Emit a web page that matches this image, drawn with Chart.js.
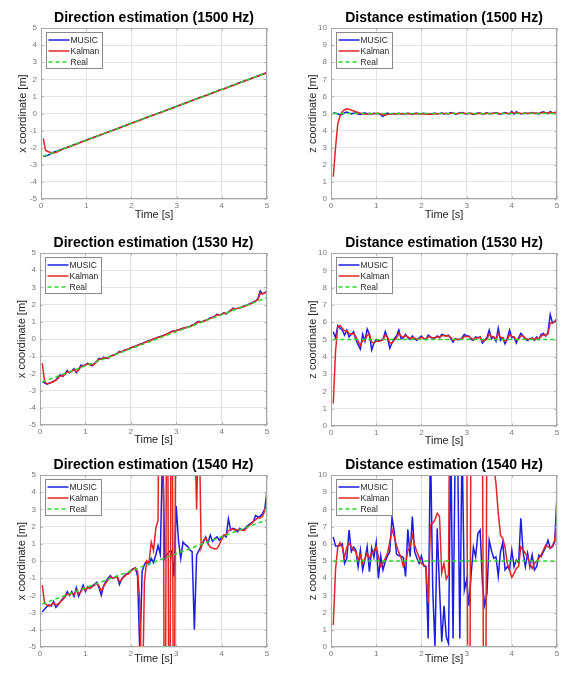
<!DOCTYPE html>
<html>
<head>
<meta charset="utf-8">
<script src="https://cdn.jsdelivr.net/npm/chart.js@4.4.1/dist/chart.umd.min.js"></script>
<style>
html,body{margin:0;padding:0;background:#fff;width:562px;height:673px;overflow:hidden;position:relative}
canvas{position:absolute}
</style>
</head>
<body>
<script>
// ---------- DATA ----------
const time = [
0.05,0.10,0.15,0.20,0.25,0.30,0.35,0.40,0.45,0.50,
0.55,0.60,0.65,0.70,0.75,0.80,0.85,0.90,0.95,1.00,
1.05,1.10,1.15,1.20,1.25,1.30,1.35,1.40,1.45,1.50,
1.55,1.60,1.65,1.70,1.75,1.80,1.85,1.90,1.95,2.00,
2.05,2.10,2.15,2.20,2.25,2.30,2.35,2.40,2.45,2.50,
2.55,2.60,2.65,2.70,2.75,2.80,2.85,2.90,2.95,3.00,
3.05,3.10,3.15,3.20,3.25,3.30,3.35,3.40,3.45,3.50,
3.55,3.60,3.65,3.70,3.75,3.80,3.85,3.90,3.95,4.00,
4.05,4.10,4.15,4.20,4.25,4.30,4.35,4.40,4.45,4.50,
4.55,4.60,4.65,4.70,4.75,4.80,4.85,4.90,4.95,5.00];

const realTime = [0.05, 5.00];
const dirReal  = [-2.50, 2.40];
const distReal = [5.00, 5.00];

const seriesNames = ['MUSIC', 'Kalman', 'Real'];
const xTicks = [0, 1, 2, 3, 4, 5];
const dirTicks = [-5, -4, -3, -2, -1, 0, 1, 2, 3, 4, 5];
const distTicks = [0, 1, 2, 3, 4, 5, 6, 7, 8, 9, 10];

// Direction 1500 Hz
const dirMusic1500 = [
-2.50,-2.49,-2.45,-2.38,-2.31,-2.24,-2.20,-2.15,-2.11,-2.05,
-2.01,-1.96,-1.92,-1.86,-1.81,-1.77,-1.71,-1.66,-1.61,-1.56,
-1.51,-1.46,-1.42,-1.36,-1.31,-1.27,-1.21,-1.16,-1.12,-1.07,
-1.02,-0.97,-0.92,-0.88,-0.82,-0.77,-0.72,-0.67,-0.62,-0.57,
-0.52,-0.47,-0.43,-0.37,-0.32,-0.27,-0.22,-0.17,-0.12,-0.08,
-0.03,0.02,0.07,0.12,0.17,0.22,0.27,0.32,0.37,0.42,
0.47,0.52,0.57,0.62,0.66,0.72,0.77,0.82,0.87,0.92,
0.96,1.01,1.06,1.11,1.16,1.21,1.26,1.31,1.37,1.41,
1.45,1.50,1.56,1.61,1.66,1.70,1.76,1.81,1.86,1.91,
1.95,2.00,2.05,2.10,2.15,2.19,2.25,2.30,2.34,2.40];
const dirKalman1500 = [
-1.45,-2.15,-2.22,-2.27,-2.30,-2.30,-2.26,-2.19,-2.13,-2.07,
-2.02,-1.97,-1.92,-1.87,-1.82,-1.77,-1.72,-1.67,-1.62,-1.57,
-1.52,-1.47,-1.42,-1.37,-1.32,-1.27,-1.22,-1.17,-1.12,-1.07,
-1.02,-0.98,-0.93,-0.88,-0.83,-0.78,-0.73,-0.68,-0.63,-0.58,
-0.53,-0.48,-0.43,-0.38,-0.33,-0.28,-0.23,-0.18,-0.13,-0.08,
-0.04,0.01,0.06,0.11,0.16,0.21,0.26,0.31,0.36,0.41,
0.46,0.51,0.56,0.61,0.66,0.71,0.76,0.81,0.86,0.91,
0.95,1.00,1.05,1.10,1.15,1.20,1.25,1.30,1.35,1.40,
1.45,1.49,1.54,1.59,1.64,1.69,1.74,1.79,1.84,1.89,
1.94,1.99,2.04,2.09,2.14,2.19,2.24,2.29,2.34,2.39];

// Distance 1500 Hz
const distMusic1500 = [
5.05,5.02,4.98,4.92,4.95,5.05,5.08,5.02,4.98,5.02,
5.03,4.97,4.95,5.00,5.04,4.98,5.00,4.97,5.02,4.99,
5.01,4.93,4.82,4.97,5.02,4.96,4.99,5.00,4.97,5.01,
4.98,5.00,4.97,5.02,4.99,4.96,5.00,5.02,4.98,4.99,
5.01,4.97,4.95,4.99,5.00,5.02,4.98,5.00,5.03,4.99,
5.00,4.98,5.06,5.02,4.96,5.00,5.03,5.05,5.00,4.97,
5.02,5.00,4.96,4.99,5.03,5.01,4.97,5.00,5.04,4.98,
5.00,5.02,5.05,4.99,4.97,5.01,5.06,5.00,4.98,5.12,
4.96,5.10,5.02,4.98,5.00,5.03,4.99,5.01,5.05,5.00,
5.02,4.98,5.06,5.10,5.04,4.99,5.12,5.03,5.06,5.08];
const distKalman1500 = [
1.30,3.00,4.40,4.85,5.10,5.22,5.27,5.25,5.20,5.15,
5.10,5.06,5.02,4.98,4.96,4.97,5.00,4.98,4.99,5.00,
5.00,4.97,4.92,4.90,4.95,4.97,4.98,4.99,4.98,4.99,
4.98,4.99,4.98,5.00,4.99,4.98,4.99,5.00,4.99,4.98,
4.98,4.96,4.95,4.95,4.96,4.98,4.98,4.99,5.00,5.00,
5.00,4.99,5.02,5.02,5.00,4.99,5.01,5.03,5.02,4.99,
5.00,5.00,4.98,4.98,5.00,5.01,4.99,4.99,5.01,5.00,
5.00,5.01,5.02,5.01,4.99,5.00,5.02,5.01,5.00,5.05,
5.02,5.05,5.03,5.00,5.00,5.02,5.01,5.01,5.03,5.02,
5.02,5.00,5.03,5.06,5.05,5.02,5.06,5.05,5.05,5.06];

// Direction 1530 Hz
const dirMusic1530 = [
-2.46,-2.55,-2.62,-2.57,-2.52,-2.45,-2.38,-2.22,-2.08,-2.18,
-2.02,-1.83,-1.96,-1.86,-1.73,-1.96,-1.80,-1.52,-1.56,-1.50,
-1.42,-1.50,-1.56,-1.42,-1.30,-1.12,-1.16,-1.07,-1.10,-1.13,
-1.00,-0.94,-0.90,-0.84,-0.72,-0.75,-0.66,-0.62,-0.58,-0.50,
-0.46,-0.42,-0.36,-0.30,-0.26,-0.20,-0.15,-0.10,-0.06,0.00,
0.05,0.10,0.14,0.19,0.24,0.30,0.36,0.44,0.48,0.50,
0.53,0.58,0.62,0.66,0.70,0.73,0.80,0.86,0.96,1.03,
0.98,1.04,1.10,1.14,1.22,1.26,1.32,1.45,1.38,1.45,
1.52,1.46,1.58,1.66,1.80,1.76,1.78,1.82,1.86,1.92,
1.97,2.03,2.08,2.15,2.22,2.34,2.80,2.62,2.68,2.80];
const dirKalman1530 = [
-1.40,-2.45,-2.60,-2.58,-2.53,-2.47,-2.40,-2.28,-2.14,-2.15,
-2.06,-1.90,-1.93,-1.87,-1.78,-1.90,-1.82,-1.60,-1.56,-1.51,
-1.45,-1.48,-1.52,-1.45,-1.34,-1.18,-1.16,-1.09,-1.10,-1.11,
-1.02,-0.96,-0.91,-0.85,-0.76,-0.75,-0.68,-0.63,-0.58,-0.52,
-0.47,-0.43,-0.37,-0.32,-0.27,-0.21,-0.16,-0.11,-0.07,-0.01,
0.04,0.09,0.13,0.18,0.23,0.29,0.35,0.42,0.47,0.49,
0.52,0.57,0.61,0.65,0.69,0.73,0.78,0.84,0.93,1.00,
0.99,1.03,1.08,1.13,1.20,1.25,1.31,1.41,1.39,1.44,
1.50,1.48,1.56,1.64,1.76,1.76,1.78,1.81,1.85,1.90,
1.95,2.01,2.06,2.13,2.20,2.30,2.65,2.63,2.67,2.78];

// Distance 1530 Hz
const distMusic1530 = [
5.45,5.10,5.80,5.65,5.55,5.25,5.55,5.15,5.30,5.45,
5.00,4.70,4.45,5.30,4.90,5.60,5.30,4.40,4.80,5.00,
4.90,4.95,5.00,5.45,5.10,4.50,4.80,5.05,5.20,5.55,
5.05,5.10,5.30,5.10,5.00,5.20,5.05,4.95,5.10,5.20,
5.05,5.00,5.25,5.15,5.05,5.10,5.20,5.10,5.30,5.25,
5.20,5.25,5.05,4.85,5.05,5.00,5.00,5.10,5.30,5.20,
5.20,5.00,4.95,5.15,5.10,5.15,4.80,4.95,5.10,5.55,
5.05,5.15,4.90,5.65,4.95,5.10,4.75,5.05,5.55,5.10,
5.15,4.80,5.10,5.35,5.20,5.00,4.95,5.05,5.10,4.95,
5.15,5.00,5.30,5.35,5.20,5.40,6.45,5.95,6.05,6.20];
const distKalman1530 = [
1.30,4.30,5.75,5.80,5.65,5.50,5.50,5.35,5.30,5.35,
5.15,4.90,4.65,4.95,4.95,5.25,5.30,4.85,4.80,4.90,
4.90,4.92,4.98,5.25,5.15,4.80,4.80,4.95,5.10,5.35,
5.20,5.12,5.22,5.15,5.05,5.12,5.08,5.00,5.05,5.12,
5.08,5.03,5.15,5.15,5.08,5.08,5.15,5.12,5.22,5.23,
5.20,5.22,5.12,4.95,5.00,5.00,5.00,5.05,5.18,5.18,
5.18,5.08,5.00,5.08,5.08,5.12,4.92,4.95,5.03,5.30,
5.18,5.15,5.02,5.35,5.12,5.10,4.90,4.98,5.28,5.18,
5.15,4.95,5.02,5.20,5.20,5.08,5.00,5.02,5.06,5.00,
5.08,5.04,5.18,5.28,5.25,5.32,5.95,5.95,6.00,6.15];

// Direction 1540 Hz
const dirMusic1540 = [
-2.95,-2.80,-2.65,-2.55,-2.62,-2.36,-2.70,-2.55,-2.36,-2.20,
-2.05,-1.78,-2.00,-1.78,-2.05,-1.55,-2.05,-1.75,-1.40,-1.78,
-1.50,-1.60,-1.45,-1.36,-1.24,-1.55,-2.00,-1.45,-1.20,-1.00,
-0.85,-1.00,-0.95,-0.90,-1.36,-1.05,-0.87,-0.75,-0.72,-0.55,
-0.45,-0.40,-0.90,-5.50,-0.60,-0.20,0.00,-0.20,0.15,-0.10,
0.35,0.90,0.40,6.50,0.15,0.40,0.55,0.60,-0.90,3.20,
1.20,0.15,1.10,0.95,0.85,0.65,0.55,-4.00,0.35,0.60,
0.90,1.10,1.40,1.05,1.50,1.15,1.30,1.40,1.20,1.35,
1.50,1.40,2.45,1.80,1.90,1.85,1.70,1.90,1.80,1.85,
2.00,2.10,2.20,2.30,2.65,2.55,2.60,2.75,3.00,4.10];
const dirKalman1540 = [
-1.40,-2.46,-2.55,-2.62,-2.55,-2.45,-2.55,-2.50,-2.38,-2.25,
-2.10,-1.90,-1.98,-1.85,-1.95,-1.70,-1.90,-1.80,-1.55,-1.70,
-1.55,-1.58,-1.50,-1.40,-1.30,-1.45,-1.75,-1.50,-1.28,-1.10,
-0.92,-0.98,-0.96,-0.92,-1.20,-1.08,-0.92,-0.80,-0.75,-0.60,
-0.48,-0.42,-0.60,-2.50,-9.00,-1.20,0.00,-0.10,1.10,0.60,
1.90,2.35,20.0,20.0,-20.0,20.0,-20.0,20.0,-20.0,20.0,
16.0,14.0,12.0,11.0,10.0,9.5,9.0,8.5,3.0,9.0,
0.75,1.20,1.35,1.00,0.80,0.75,0.70,0.72,0.95,1.25,
1.50,1.55,1.75,1.85,1.85,1.80,1.80,1.85,1.80,1.78,
1.90,2.05,2.15,2.30,2.40,2.50,2.50,2.60,2.90,3.50];

// Distance 1540 Hz
const distMusic1540 = [
6.40,5.87,5.87,5.90,6.00,4.86,5.16,6.80,5.54,5.80,
5.64,4.67,5.64,4.48,5.06,5.83,4.38,5.74,5.21,6.07,
3.99,5.29,4.48,4.96,5.30,5.54,7.54,6.70,5.40,5.30,
5.29,5.20,4.10,6.84,5.25,7.58,5.54,5.16,4.86,5.29,
4.71,4.67,0.50,12.0,3.40,0.00,6.90,3.50,0.30,2.40,
0.60,0.20,12.0,0.50,12.0,12.0,0.50,12.0,3.30,3.90,
2.40,4.20,5.80,5.25,6.60,6.80,3.70,2.44,3.10,6.20,
5.60,5.16,5.25,4.13,5.54,6.07,4.48,4.67,4.48,5.64,
4.67,5.06,4.90,7.48,5.54,4.67,5.45,4.67,5.35,4.48,
4.67,5.35,5.25,5.54,5.80,6.20,5.74,5.83,6.12,8.90];
const distKalman1540 = [
1.28,4.48,5.83,6.07,5.80,5.21,5.80,6.03,5.83,5.64,
5.54,5.06,5.35,4.86,5.16,5.45,5.16,5.45,5.60,5.83,
5.25,4.67,4.86,5.16,5.45,6.10,6.84,6.40,5.90,5.50,
5.21,4.67,4.90,5.60,5.83,6.50,5.93,5.54,5.21,4.86,
4.77,4.70,2.54,7.10,7.20,7.40,7.77,7.60,4.30,4.86,
3.95,4.20,25.0,22.0,20.0,19.0,18.0,17.0,16.0,16.0,
-20.0,16.0,15.0,14.0,14.0,13.0,13.0,-20.0,14.0,12.5,
11.5,10.5,9.5,7.8,6.5,6.3,5.8,4.86,4.48,4.05,
4.28,4.57,4.67,5.83,5.64,5.45,5.21,4.86,4.57,4.86,
5.00,5.16,5.35,5.64,5.93,5.83,5.74,5.90,6.22,7.58];

// ---------- STYLE / LAYOUT ----------
const FONT = '"Liberation Sans", Arial, Helvetica, sans-serif';
const BLUE = 'rgb(28,28,228)';
const RED = 'rgb(226,38,38)';
const GREEN = 'rgb(40,215,40)';
const GRID = '#e4e4e4';
const BORDER = '#a8a8a8';
const TICKC = '#7a7a7a';
const TXT = '#262626';
const PADL = 40, PADT = 28, PADR = 8, PADB = 24;

const panels = [
  {title:'Direction estimation (1500 Hz)', yTitle:'x coordinate [m]', yTicks:dirTicks, music:dirMusic1500, kalman:dirKalman1500, real:dirReal, L:41, T:28, W:226, H:171, xt:16},
  {title:'Distance estimation (1500 Hz)', yTitle:'z coordinate [m]', yTicks:distTicks, music:distMusic1500, kalman:distKalman1500, real:distReal, L:331, T:28, W:226, H:171, xt:16},
  {title:'Direction estimation (1530 Hz)', yTitle:'x coordinate [m]', yTicks:dirTicks, music:dirMusic1530, kalman:dirKalman1530, real:dirReal, L:40, T:253, W:227, H:172, xt:15},
  {title:'Distance estimation (1530 Hz)', yTitle:'z coordinate [m]', yTicks:distTicks, music:distMusic1530, kalman:distKalman1530, real:distReal, L:331, T:253, W:226, H:173, xt:15},
  {title:'Direction estimation (1540 Hz)', yTitle:'x coordinate [m]', yTicks:dirTicks, music:dirMusic1540, kalman:dirKalman1540, real:dirReal, L:40, T:475, W:227, H:172, xt:12},
  {title:'Distance estimation (1540 Hz)', yTitle:'z coordinate [m]', yTicks:distTicks, music:distMusic1540, kalman:distKalman1540, real:distReal, L:331, T:475, W:226, H:172, xt:12}
];

function zip(xs, ys) { return xs.map((x, i) => ({x: x, y: ys[i]})); }

const framePlugin = {
  id: 'frame',
  afterDatasetsDraw(chart) {
    const o = chart.options.plugins.frame;
    const ctx = chart.ctx, a = chart.chartArea;
    const xs = chart.scales.x, ys = chart.scales.y;
    ctx.save();
    // axes box
    const l = Math.round(a.left) + 0.5, t = Math.round(a.top) + 0.5;
    const r = Math.round(a.right) - 0.5, b = Math.round(a.bottom) - 0.5;
    ctx.strokeStyle = BORDER; ctx.lineWidth = 1; ctx.setLineDash([]);
    ctx.strokeRect(l, t, r - l, b - t);
    // inward tick marks
    ctx.beginPath();
    xs.ticks.forEach(tk => {
      const px = Math.round(xs.getPixelForValue(tk.value)) + 0.5;
      ctx.moveTo(px, b); ctx.lineTo(px, b - 2);
      ctx.moveTo(px, t); ctx.lineTo(px, t + 2);
    });
    ys.ticks.forEach(tk => {
      const py = Math.round(ys.getPixelForValue(tk.value)) + 0.5;
      ctx.moveTo(l, py); ctx.lineTo(l + 2, py);
      ctx.moveTo(r, py); ctx.lineTo(r - 2, py);
    });
    ctx.stroke();
    // legend
    const bx = l + 5, by = t + 4, bw = 56, bh = 36;
    ctx.fillStyle = '#fff';
    ctx.fillRect(bx, by, bw, bh);
    ctx.strokeStyle = '#8a8a8a';
    ctx.strokeRect(bx, by, bw, bh);
    ctx.font = '8.5px ' + FONT;
    ctx.textAlign = 'left'; ctx.textBaseline = 'middle';
    chart.data.datasets.forEach((ds, i) => {
      const y = by + 7.5 + i * 11;
      ctx.strokeStyle = ds.borderColor; ctx.lineWidth = 1.5;
      ctx.setLineDash(ds.borderDash || []);
      ctx.beginPath(); ctx.moveTo(bx + 2, y); ctx.lineTo(bx + 23, y); ctx.stroke();
      ctx.setLineDash([]);
      ctx.fillStyle = TXT;
      ctx.fillText(ds.label, bx + 24, y + 0.5);
    });
    // title
    const cx = (a.left + a.right) / 2, cy = (a.top + a.bottom) / 2;
    ctx.fillStyle = '#000';
    ctx.font = 'bold 14px ' + FONT;
    ctx.textAlign = 'center'; ctx.textBaseline = 'middle';
    ctx.fillText(o.title, cx, a.top - 10);
    // x axis title
    ctx.fillStyle = TXT;
    ctx.font = '11px ' + FONT;
    ctx.fillText('Time [s]', cx, a.bottom + o.xt);
    // y axis title
    ctx.translate(a.left - 18, cy);
    ctx.rotate(-Math.PI / 2);
    ctx.fillText(o.yTitle, 0, 0);
    ctx.restore();
  }
};

panels.forEach(p => {
  const cv = document.createElement('canvas');
  const w = PADL + p.W + PADR, h = PADT + p.H + PADB;
  cv.width = w; cv.height = h;
  cv.style.width = w + 'px'; cv.style.height = h + 'px';
  cv.style.left = (p.L - PADL) + 'px';
  cv.style.top = (p.T - PADT) + 'px';
  document.body.appendChild(cv);
  const yMin = p.yTicks[0], yMax = p.yTicks[p.yTicks.length - 1];
  new Chart(cv.getContext('2d'), {
    type: 'line',
    data: {
      datasets: [
        {label: seriesNames[0], data: zip(time, p.music), borderColor: BLUE, borderWidth: 1.5, pointRadius: 0, tension: 0, order: 3},
        {label: seriesNames[1], data: zip(time, p.kalman), borderColor: RED, borderWidth: 1.5, pointRadius: 0, tension: 0, order: 2},
        {label: seriesNames[2], data: zip(realTime, p.real), borderColor: GREEN, borderWidth: 1.5, borderDash: [4, 3], pointRadius: 0, tension: 0, order: 1}
      ]
    },
    options: {
      responsive: false, animation: false, devicePixelRatio: 1,
      layout: {padding: {left: 0, top: PADT, right: PADR, bottom: 0}},
      plugins: {
        legend: {display: false}, tooltip: {enabled: false}, title: {display: false},
        frame: {title: p.title, yTitle: p.yTitle, xt: p.xt}
      },
      scales: {
        x: {
          type: 'linear', min: xTicks[0], max: xTicks[xTicks.length - 1],
          afterBuildTicks: s => { s.ticks = xTicks.map(v => ({value: v})); },
          ticks: {color: TICKC, font: {size: 8, family: FONT}, padding: 2, maxRotation: 0, autoSkip: false},
          grid: {color: GRID, drawTicks: false, lineWidth: 1},
          border: {display: false},
          afterFit: s => { s.height = PADB; }
        },
        y: {
          type: 'linear', min: yMin, max: yMax,
          afterBuildTicks: s => { s.ticks = p.yTicks.map(v => ({value: v})); },
          ticks: {color: TICKC, font: {size: 8, family: FONT}, padding: 4, autoSkip: false},
          grid: {color: GRID, drawTicks: false, lineWidth: 1},
          border: {display: false},
          afterFit: s => { s.width = PADL; }
        }
      }
    },
    plugins: [framePlugin]
  });
});
</script>
</body>
</html>
